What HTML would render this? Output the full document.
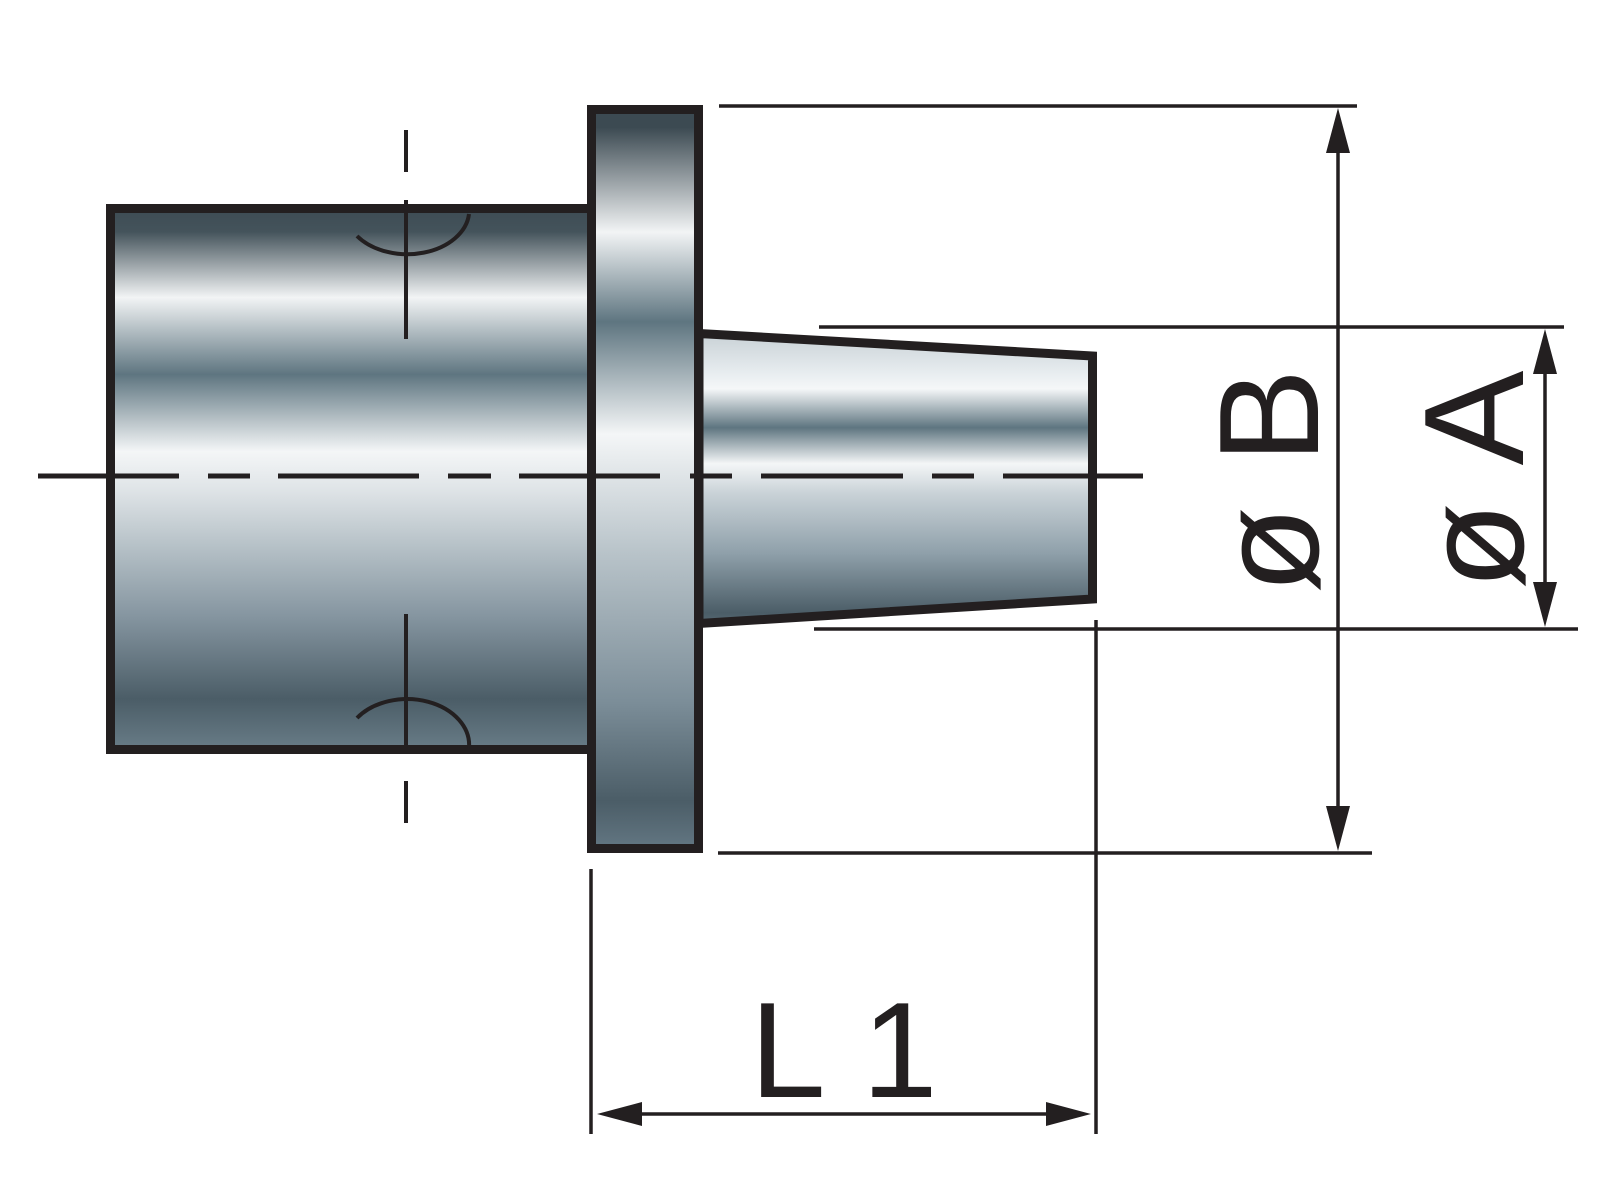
<!DOCTYPE html>
<html><head><meta charset="utf-8"><style>html,body{margin:0;padding:0;background:#fff}svg{display:block}text{font-family:"Liberation Sans",Arial,sans-serif}</style></head>
<body>
<svg width="1600" height="1200" viewBox="0 0 1600 1200" xmlns="http://www.w3.org/2000/svg">
<defs>
<linearGradient id="gb" gradientUnits="userSpaceOnUse" x1="0" y1="204" x2="0" y2="754">
<stop offset="0" stop-color="#3c4a52"/><stop offset="0.05" stop-color="#44535b"/><stop offset="0.17" stop-color="#f2f4f5"/><stop offset="0.31" stop-color="#5e7580"/><stop offset="0.45" stop-color="#f4f6f7"/><stop offset="0.52" stop-color="#dfe4e7"/><stop offset="0.62" stop-color="#b7c2c8"/><stop offset="0.75" stop-color="#8595a0"/><stop offset="0.9" stop-color="#4b5d67"/><stop offset="1" stop-color="#6b7f8a"/>
</linearGradient>
<linearGradient id="gf" gradientUnits="userSpaceOnUse" x1="0" y1="105" x2="0" y2="853">
<stop offset="0" stop-color="#3c4a52"/><stop offset="0.03" stop-color="#3c4a52"/><stop offset="0.17" stop-color="#f2f4f5"/><stop offset="0.29" stop-color="#5e7580"/><stop offset="0.44" stop-color="#f4f6f7"/><stop offset="0.6" stop-color="#b8c3c9"/><stop offset="0.8" stop-color="#7b8d98"/><stop offset="0.93" stop-color="#4b5d67"/><stop offset="1" stop-color="#657985"/>
</linearGradient>
<linearGradient id="gc" gradientUnits="userSpaceOnUse" x1="0" y1="329" x2="0" y2="628">
<stop offset="0" stop-color="#c5ced3"/><stop offset="0.15" stop-color="#e8edf0"/><stop offset="0.2" stop-color="#f5f7f8"/><stop offset="0.33" stop-color="#5e7580"/><stop offset="0.45" stop-color="#f4f6f7"/><stop offset="0.55" stop-color="#c9d2d7"/><stop offset="0.75" stop-color="#8fa0aa"/><stop offset="0.95" stop-color="#4b5d67"/><stop offset="1" stop-color="#5a6d78"/>
</linearGradient>
</defs>
<g stroke="#231f20" fill="none">
<rect x="110.5" y="208.5" width="490" height="541" fill="url(#gb)" stroke-width="9"/>
<polygon points="699,333.5 1092.5,356 1092.5,599 699,623.5" fill="url(#gc)" stroke-width="9"/>
<rect x="591.5" y="109.5" width="107" height="739" fill="url(#gf)" stroke-width="9"/>
<path d="M38 476H179M208 476H250M278 476H419M448 476H491M519 476H660M690 476H732M761 476H903M932 476H974M1003 476H1143" stroke-width="5"/>
<path d="M406 130V172M406 200V339M406 614V752M406 781V823" stroke-width="4"/>
<path d="M357 236 A62 44 0 0 0 469 214" stroke-width="4"/>
<path d="M357 718 A62 46 0 0 1 469 748" stroke-width="4"/>
<g stroke-width="3.5">
<path d="M719 106H1357M718 853H1372M819 327H1564M814 629H1578"/>
<path d="M591 869V1134M1096 620V1134"/>
<path d="M1338 140V820M1545 360V596M630 1114H1058"/>
</g>
</g>
<g fill="#231f20">
<polygon points="1338,108 1326,153 1350,153"/>
<polygon points="1338,851 1326,806 1350,806"/>
<polygon points="1545,329 1533,374 1557,374"/>
<polygon points="1545,627 1533,582 1557,582"/>
<polygon points="597,1114 642,1102 642,1126"/>
<polygon points="1091,1114 1046,1102 1046,1126"/>
</g>
<g fill="#231f20">
<text font-size="142" text-anchor="middle" transform="translate(1318,416) rotate(-90)">B</text>
<text font-size="142" text-anchor="middle" transform="translate(1318,550) rotate(-90)">ø</text>
<text font-size="142" text-anchor="middle" transform="translate(1523,418) rotate(-90)">A</text>
<text font-size="142" text-anchor="middle" transform="translate(1523,546) rotate(-90)">ø</text>
<text font-size="136" x="750" y="1097">L</text>
<text font-size="136" x="862" y="1097">1</text>
</g>
</svg>
</body></html>
